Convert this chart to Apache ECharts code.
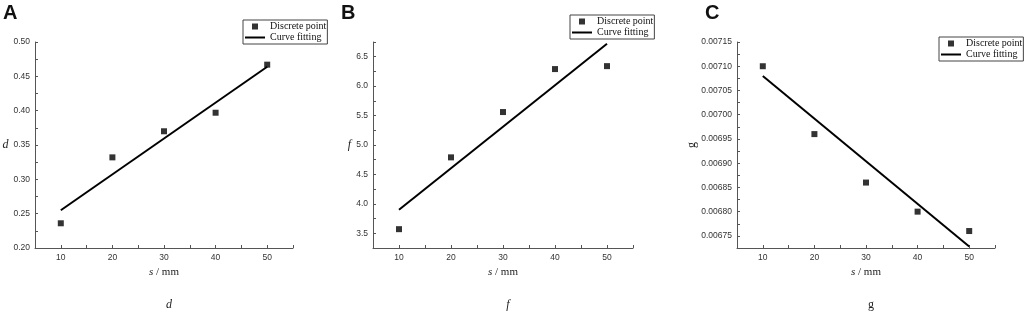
<!DOCTYPE html>
<html>
<head>
<meta charset="utf-8">
<script src="https://cdn.jsdelivr.net/npm/echarts@6/dist/echarts.min.js"></script>
<style>
  html, body { margin: 0; padding: 0; background: #fff; }
  #chart { width: 1024px; height: 311px; }
</style>
</head>
<body>
<div id="chart"></div>
<script>
// ---- data ----
var sVals = [10, 20, 30, 40, 50];
var dVals = [0.236, 0.332, 0.370, 0.397, 0.467];
var fVals = [3.57, 4.79, 5.56, 6.29, 6.34];
var gVals = [0.00710, 0.00696, 0.00686, 0.00680, 0.00676];

// fitted lines, end points
var fitS = [10, 50];
var dFit = [0.255, 0.464];
var fFit = [3.90, 6.72];
var gFit = [0.00708, 0.006728];

var panelLetters = ['A', 'B', 'C'];
var captions = ['d', 'f', 'g'];

function pairs(xs, ys) {
    return xs.map(function (x, i) { return [x, ys[i]]; });
}

var dom = document.getElementById('chart');
var myChart = echarts.init(dom);

var axisColor = '#555';
var serif = 'Liberation Serif';
var sans = 'Liberation Sans';

var grids = [
    { left: 35, top: 42, width: 258, height: 206 },
    { left: 373, top: 42, width: 260, height: 206 },
    { left: 737, top: 42, width: 258, height: 206 }
];

function xAxisFor(idx) {
    return {
        type: 'value',
        gridIndex: idx,
        min: 5,
        max: 55,
        interval: 5,
        name: '{i|s} / mm',
        nameLocation: 'middle',
        nameGap: 19,
        nameTextStyle: {
            fontFamily: serif, fontSize: 11, color: '#222',
            rich: { i: { fontStyle: 'italic', fontFamily: serif, fontSize: 11, color: '#222' } }
        },
        splitLine: { show: false },
        axisLine: { show: true, lineStyle: { color: axisColor, width: 1 } },
        axisTick: { show: true, inside: true, length: 3, lineStyle: { color: axisColor } },
        axisLabel: {
            margin: 5, fontSize: 8.5, fontFamily: sans, color: '#333',
            formatter: function (v) { return Math.round(v) % 10 === 0 ? String(Math.round(v)) : ''; }
        }
    };
}

function yAxisFor(idx, cfg) {
    return {
        type: 'value',
        gridIndex: idx,
        min: cfg.min,
        max: cfg.max,
        interval: cfg.interval,
        name: cfg.name,
        nameLocation: 'middle',
        nameGap: cfg.nameGap,
        nameRotate: cfg.nameRotate,
        nameTextStyle: { fontFamily: serif, fontSize: 12, fontStyle: cfg.nameStyle, color: '#222' },
        splitLine: { show: false },
        axisLine: { show: true, lineStyle: { color: axisColor, width: 1 } },
        axisTick: { show: true, inside: true, length: 3, lineStyle: { color: axisColor } },
        axisLabel: { margin: 5, fontSize: 8.5, fontFamily: sans, color: '#333', formatter: cfg.formatter }
    };
}

var yCfgs = [
    {
        min: 0.2, max: 0.5, interval: 0.025, name: 'd', nameGap: 24, nameRotate: 0, nameStyle: 'italic',
        formatter: function (v) { return Math.round(v * 1000) % 50 === 0 ? v.toFixed(2) : ''; }
    },
    {
        min: 3.25, max: 6.75, interval: 0.25, name: 'f', nameGap: 22, nameRotate: 0, nameStyle: 'italic',
        formatter: function (v) { return Math.round(v * 100) % 50 === 0 ? v.toFixed(1) : ''; }
    },
    {
        min: 0.006725, max: 0.00715, interval: 0.000025, name: 'g', nameGap: 36, nameRotate: 90, nameStyle: 'normal',
        formatter: function (v) { return Math.round(v * 1e6) % 50 === 0 ? v.toFixed(5) : ''; }
    }
];

var pointSets = [dVals, fVals, gVals];
var fitSets = [dFit, fFit, gFit];
var legendPos = [
    { left: 243, top: 20 },
    { left: 570, top: 15 },
    { left: 939, top: 37 }
];

var titles = [];
var legends = [];
var series = [];
grids.forEach(function (g, i) {
    var centerX = g.left + g.width / 2;
    titles.push({
        text: panelLetters[i],
        left: g.left - 32,
        top: 3,
        padding: 0,
        textStyle: { fontFamily: sans, fontWeight: 'bold', fontSize: 20, color: '#111' }
    });
    titles.push({
        text: captions[i],
        left: centerX,
        textAlign: 'center',
        top: 294,
        textStyle: { fontFamily: serif, fontSize: 12, fontWeight: 'normal', fontStyle: i < 2 ? 'italic' : 'normal', color: '#222' }
    });
    legends.push({
        left: legendPos[i].left,
        top: legendPos[i].top,
        orient: 'vertical',
        selectedMode: false,
        itemWidth: 20,
        itemHeight: 6,
        itemGap: 0,
        padding: [1, 1, 1, 2],
        borderColor: '#444',
        borderWidth: 1,
        textStyle: { fontFamily: serif, fontSize: 10, lineHeight: 11, color: '#111' },
        data: [
            { name: 'Discrete point', icon: 'path://M0 0H10V10H0Z' },
            { name: 'Curve fitting', icon: 'path://M0 0H20V2H0Z' }
        ]
    });
    series.push({
        name: 'Discrete point',
        type: 'scatter',
        xAxisIndex: i,
        yAxisIndex: i,
        symbol: 'rect',
        symbolSize: 6,
        itemStyle: { color: '#000' },
        data: pairs(sVals, pointSets[i])
    });
    series.push({
        name: 'Curve fitting',
        type: 'line',
        xAxisIndex: i,
        yAxisIndex: i,
        symbol: 'none',
        lineStyle: { color: '#000', width: 2 },
        itemStyle: { color: '#000' },
        data: pairs(fitS, fitSets[i])
    });
});

var option = {
    backgroundColor: '#FFFFFF',
    animation: false,
    title: titles,
    legend: legends,
    grid: grids,
    xAxis: [xAxisFor(0), xAxisFor(1), xAxisFor(2)],
    yAxis: yCfgs.map(function (c, i) { return yAxisFor(i, c); }),
    series: series
};

myChart.setOption(option);
</script>
</body>
</html>
